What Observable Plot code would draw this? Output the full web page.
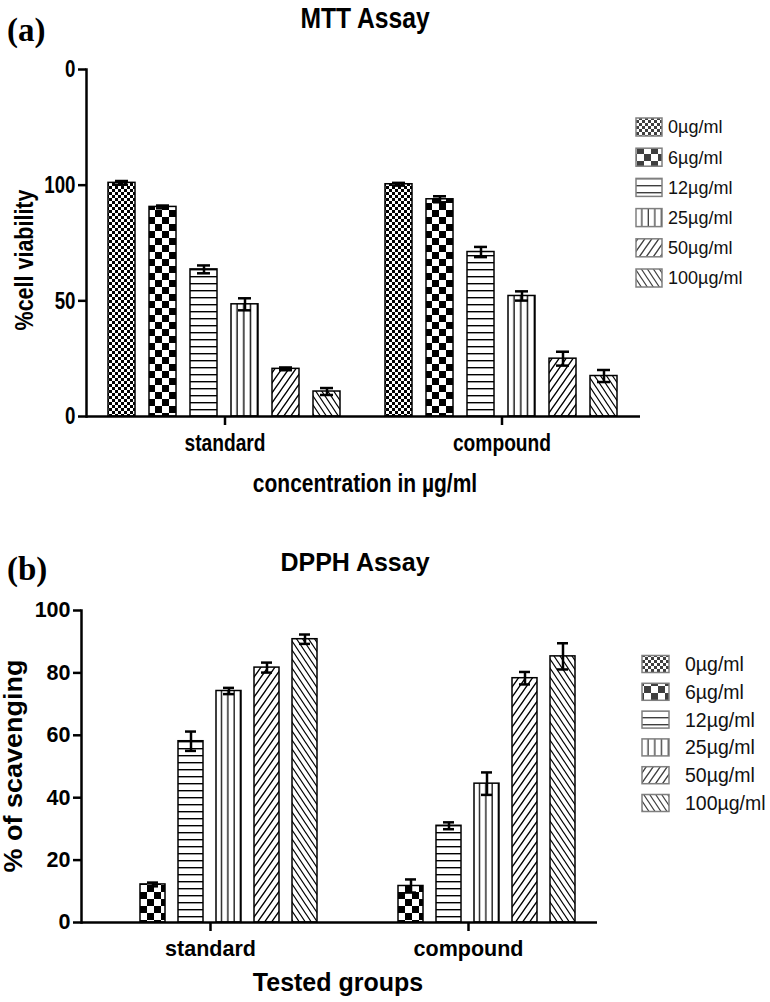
<!DOCTYPE html>
<html><head><meta charset="utf-8">
<script src="https://cdn.jsdelivr.net/npm/d3@7"></script>
<script src="https://cdn.jsdelivr.net/npm/@observablehq/plot@0.6"></script>
<style>
html,body{margin:0;padding:0;background:#fff;}
#root{position:relative;width:770px;height:1002px;overflow:hidden;background:#fff;}
.panel{position:absolute;left:0;width:770px;}
.panel svg{display:block;overflow:visible;}
.panel svg line, .panel svg path{stroke-width:2.5px;}
#overlay{position:absolute;left:0;top:0;pointer-events:none;}
</style></head><body><div id="root">
<svg id="defs" width="0" height="0" style="position:absolute;left:0;top:0"><defs></defs></svg>
<div class="panel" id="top" style="top:0"></div>
<div class="panel" id="bottom" style="top:500px"></div>
<svg id="overlay" width="770" height="1002"></svg>
</div>
<script>
// ---------- data ----------
const groups = ["standard", "compound"];
const concs = ["0µg/ml", "6µg/ml", "12µg/ml", "25µg/ml", "50µg/ml", "100µg/ml"];

const mttStandard    = [101.0, 90.6, 63.6, 48.5, 20.6, 10.8];
const mttStandardErr = [0.8, 0.6, 1.7, 2.6, 0.6, 1.5];
const mttCompound    = [100.4, 93.9, 71.1, 52.1, 25.0, 17.5];
const mttCompoundErr = [0.6, 1.3, 2.2, 2.0, 3.0, 2.6];
const mttTicks = [0, 50, 100, 150];
const mttTickLabels = ["0", "50", "100", "0"];

const dpphStandard    = [null, 12.2, 58.1, 74.2, 81.7, 90.8];
const dpphStandardErr = [null, 0.6, 3.1, 1.0, 1.6, 1.5];
const dpphCompound    = [null, 11.7, 31.0, 44.5, 78.3, 85.3];
const dpphCompoundErr = [null, 2.1, 1.1, 3.6, 2.0, 4.2];
const dpphTicks = [0, 20, 40, 60, 80, 100];
const dpphTickLabels = ["0", "20", "40", "60", "80", "100"];

const SANS = "'Liberation Sans',Arial,Helvetica,sans-serif";
const SERIF = "'Liberation Serif','Times New Roman',serif";

// ---------- fill patterns ----------
const defs = d3.select("#defs defs");
function pattern(id, w, h, opts = {}) {
  const p = defs.append("pattern").attr("id", id)
    .attr("patternUnits", opts.units || "userSpaceOnUse")
    .attr("width", w).attr("height", h);
  if (opts.content) p.attr("patternContentUnits", opts.content);
  return p;
}
// 0: fine checker
let p = pattern("pat0", 6, 6);
p.append("rect").attr("width", 6).attr("height", 6).attr("fill", "white");
p.append("rect").attr("width", 3).attr("height", 3).attr("fill", "black");
p.append("rect").attr("x", 3).attr("y", 3).attr("width", 3).attr("height", 3).attr("fill", "black");
// 1: coarse checker
p = pattern("pat1", 14, 14);
p.append("rect").attr("width", 14).attr("height", 14).attr("fill", "white");
p.append("rect").attr("width", 7).attr("height", 7).attr("fill", "black");
p.append("rect").attr("x", 7).attr("y", 7).attr("width", 7).attr("height", 7).attr("fill", "black");
// 2: horizontal lines
p = pattern("pat2", 10, 7);
p.append("rect").attr("width", 10).attr("height", 7).attr("fill", "white");
p.append("rect").attr("y", 3).attr("width", 10).attr("height", 1.4).attr("fill", "black");
// 3: vertical lines (3 inner lines per bar)
p = pattern("pat3", 0.25, 1, {units: "objectBoundingBox", content: "objectBoundingBox"});
p.append("rect").attr("width", 0.25).attr("height", 1).attr("fill", "white");
p.append("rect").attr("x", 0.2).attr("width", 0.05).attr("height", 1).attr("fill", "black");
// 4: forward diagonal
p = pattern("pat4", 7, 10);
p.append("rect").attr("width", 7).attr("height", 10).attr("fill", "white");
p.append("path").attr("d", "M-7,20 L14,-10 M-14,20 L7,-10 M0,20 L21,-10").attr("stroke", "black").attr("stroke-width", 1.3);
// 5: backward diagonal
p = pattern("pat5", 6, 9);
p.append("rect").attr("width", 6).attr("height", 9).attr("fill", "white");
p.append("path").attr("d", "M-6,-9 L12,18 M-12,-9 L6,18 M0,-9 L18,18").attr("stroke", "black").attr("stroke-width", 1.2);

const patternFills = concs.map((_, i) => `url(#pat${i})`);

// ---------- charts ----------
function makeRows(v1, e1, v2, e2) {
  const vals = [v1, v2], errs = [e1, e2], rows = [];
  groups.forEach((g, gi) => concs.forEach((c, ci) =>
    rows.push({group: g, conc: c, value: vals[gi][ci], err: errs[gi][ci]})));
  return rows;
}

function chart({rows, ticks, tickLabels, domain, height, mt, mb, ml, mr, fontSize, fxPad}) {
  const lo = d => d.value == null ? NaN : d.value - d.err;
  const hi = d => d.value == null ? NaN : d.value + d.err;
  const hasAxisMark = typeof Plot.axisFx === "function";
  const marks = [
    Plot.barY(rows, {x: "conc", y1: 0, y2: d => d.value == null ? NaN : d.value, fill: "conc", stroke: "black", strokeWidth: 1.5}),
    Plot.ruleX(rows, {x: "conc", y1: lo, y2: hi, stroke: "black", strokeWidth: 2.5}),
    Plot.tickY(rows, {x: "conc", y: hi, stroke: "black", strokeWidth: 2.5, insetLeft: 7, insetRight: 7}),
    Plot.tickY(rows, {x: "conc", y: lo, stroke: "black", strokeWidth: 2.5, insetLeft: 7, insetRight: 7}),
    Plot.ruleY([0], {stroke: "black", strokeWidth: 2.5}),
    // group tick below the baseline, centred in each facet
    Plot.ruleX([0], {x: null, y1: 0, insetBottom: -9, stroke: "black", strokeWidth: 2.5})
  ];
  if (hasAxisMark) marks.push(Plot.axisFx({anchor: "bottom", tickSize: 0, tickPadding: fxPad + 9, label: null}));
  return Plot.plot({
    width: 770, height,
    marginTop: mt, marginBottom: mb, marginLeft: ml, marginRight: mr,
    style: {fontFamily: SANS, fontSize: fontSize + "px", fontWeight: "bold", color: "black", background: "transparent", overflow: "visible"},
    facet: {data: rows, x: "group"},
    fx: hasAxisMark
      ? {domain: groups, padding: 0, axis: null}
      : {domain: groups, padding: 0, axis: "bottom", label: null, tickSize: 0, tickPadding: fxPad + 9},
    x: {domain: concs, paddingInner: 0.33, paddingOuter: 0.5, axis: null},
    y: {domain, ticks, tickFormat: d => tickLabels[ticks.indexOf(d)], tickSize: 8, tickPadding: 3, line: true, label: null},
    color: {type: "ordinal", domain: concs, range: patternFills},
    marks
  });
}

// condense text horizontally (the top panel uses a narrow face) without touching its position
function condense(svg, selector, s) {
  svg.querySelectorAll(selector).forEach(t => {
    const L = t.getComputedTextLength();
    if (L > 0) {
      t.setAttribute("textLength", (L * s).toFixed(2));
      t.setAttribute("lengthAdjust", "spacingAndGlyphs");
    }
  });
}

const topSvg = chart({
  rows: makeRows(mttStandard, mttStandardErr, mttCompound, mttCompoundErr),
  ticks: mttTicks, tickLabels: mttTickLabels, domain: [0, 150],
  height: 500, mt: 69, mb: 84, ml: 85, mr: 130, fontSize: 24, fxPad: 8
});
document.getElementById("top").append(topSvg);
condense(topSvg, '[aria-label^="y-axis"] text', 0.78);
condense(topSvg, '[aria-label^="fx-axis"] text', 0.8);

document.getElementById("bottom").append(chart({
  rows: makeRows(dpphStandard, dpphStandardErr, dpphCompound, dpphCompoundErr),
  ticks: dpphTicks, tickLabels: dpphTickLabels, domain: [0, 100],
  height: 502, mt: 110, mb: 80, ml: 81, mr: 173, fontSize: 21.5, fxPad: 9
}));

// ---------- titles, axis titles, legends ----------
const ov = d3.select("#overlay");
function text(x, y, s, {family, size, weight = "bold", anchor = "start", rotate = 0, sx = 1}) {
  ov.append("text").attr("transform", `translate(${x},${y}) rotate(${rotate}) scale(${sx},1)`)
    .attr("text-anchor", anchor).attr("font-family", family).attr("font-size", size)
    .attr("font-weight", weight).attr("fill", "black").text(s);
}
text(7, 41, "(a)", {family: SERIF, size: 33});
text(365, 28, "MTT Assay", {family: SANS, size: 29, anchor: "middle", sx: 0.85});
text(365, 492, "concentration in µg/ml", {family: SANS, size: 25, anchor: "middle", sx: 0.84});
text(33, 260, "%cell viability", {family: SANS, size: 25, anchor: "middle", rotate: -90, sx: 0.86});

text(7, 580, "(b)", {family: SERIF, size: 33});
text(355, 571, "DPPH Assay", {family: SANS, size: 25, anchor: "middle"});
text(338, 991, "Tested groups", {family: SANS, size: 25, anchor: "middle"});
text(22, 766, "% of scavenging", {family: SANS, size: 25, anchor: "middle", rotate: -90, sx: 1.08});

function legend(x0, y0, step, sw, sh, tx, size) {
  const g = ov.append("g");
  concs.forEach((c, i) => {
    const cy = y0 + i * step;
    g.append("rect").attr("x", x0).attr("y", cy - sh / 2).attr("width", sw).attr("height", sh)
      .attr("fill", patternFills[i]).attr("stroke", "#555").attr("stroke-width", 1.5).attr("opacity", 0.75);
    g.append("text").attr("x", tx).attr("y", cy + size * 0.36).attr("font-family", SANS)
      .attr("font-size", size).attr("fill", "#111").text(c);
  });
}
legend(636, 127, 30.2, 26, 18, 668, 18);
legend(642, 664, 27.8, 27, 17, 685, 19.5);
</script>
</body></html>
